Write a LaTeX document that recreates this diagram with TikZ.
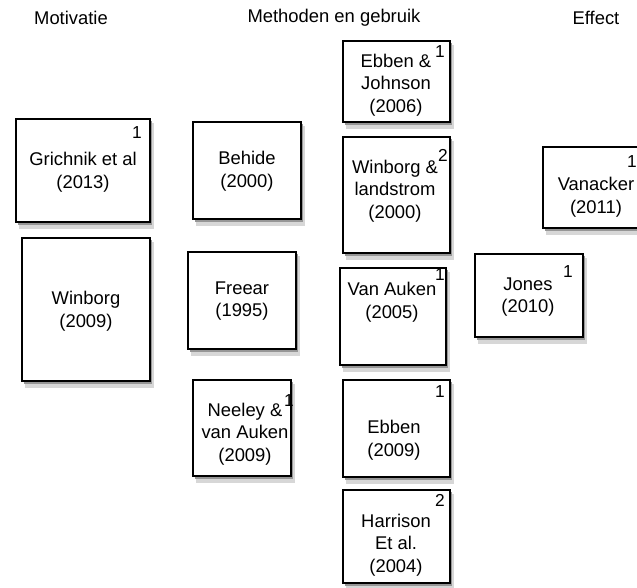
\documentclass[tikz,border=0pt]{standalone}
\usepackage{fontspec}
\setmainfont{Liberation Sans}
\definecolor{shadowlight}{RGB}{215,215,215}
\definecolor{shadowdark}{RGB}{150,150,150}

\tikzset{every picture/.style={line width=0.75pt}}
\tikzset{
  card/.style={draw=black, line width=1pt, fill=white},
  shadowfar/.style={fill=shadowlight},
  shadownear/.style={fill=shadowdark},
  cardtext/.style={align=center, inner sep=0pt, font=\fontsize{13.8}{17}\selectfont},
  cardnum/.style={inner sep=0pt, font=\fontsize{13}{14}\selectfont},
  header/.style={inner sep=0pt, font=\fontsize{13.8}{16}\selectfont}
}

\begin{document}
\begin{tikzpicture}[x=0.75pt,y=0.75pt,yscale=-1,xscale=1]
\useasboundingbox (0,0) rectangle (637,588);

% Text Node
\node[header] (motivatie) at (71,18) {Motivatie};
% Text Node
\node[header] (methoden) at (334,18) {Methoden en gebruik};
% Text Node
\node[header] (effect) at (596,18) {Effect};

%Shape: Rectangles with their shadows
\foreach \xa/\ya/\xb/\yb in {16/119/150/222, 22/238/150/381, 193/122/301/219,
    188/252/296/349, 193/380/291/476, 343/41/450/122, 343/137/450/253,
    340/268/446/365, 343/380/450/477, 343/490/450/583, 475/254/583/337,
    543/147/650/228}{
  \path[shadowfar] (\xa+3,\ya+4) rectangle (\xb+3.5,\yb+7);
  \path[shadownear] (\xa+1.5,\ya+2) rectangle (\xb+1.5,\yb+3.5);
  \draw[card] (\xa,\ya) rectangle (\xb,\yb);
}

% Text Node
\node[cardtext] (grichnik) at (83,172) {Grichnik et al\\(2013)};
\node[cardnum] (grichnik-n) at (137,133) {1};
% Text Node
\node[cardtext] (winborg) at (86,311) {Winborg\\(2009)};
% Text Node
\node[cardtext] (behide) at (247,171) {Behide\\(2000)};
% Text Node
\node[cardtext] (freear) at (242,301) {Freear\\(1995)};
% Text Node
\node[cardtext] (neeley) at (245,434) {Neeley \&\\van Auken\\(2009)};
\node[cardnum] (neeley-n) at (289,401) {1};
% Text Node
\node[cardtext] (ebbenjohnson) at (396,85) {Ebben \&\\Johnson\\(2006)};
\node[cardnum] (ebbenjohnson-n) at (440,52) {1};
% Text Node
\node[cardtext] (landstrom) at (395,191) {Winborg \&\\landstrom\\(2000)};
\node[cardnum] (landstrom-n) at (443,155) {2};
% Text Node
\node[cardtext] (vanauken) at (392,302) {Van Auken\\(2005)};
\node[cardnum] (vanauken-n) at (440,275) {1};
% Text Node
\node[cardtext] (ebben) at (394,440) {Ebben\\(2009)};
\node[cardnum] (ebben-n) at (440,392) {1};
% Text Node
\node[cardtext] (harrison) at (396,545) {Harrison\\Et al.\\(2004)};
\node[cardnum] (harrison-n) at (440,500) {2};
% Text Node
\node[cardtext] (jones) at (528,297) {Jones\\(2010)};
\node[cardnum] (jones-n) at (568,272) {1};
% Text Node
\node[cardtext] (vanacker) at (596,197) {Vanacker\\(2011)};
\node[cardnum] (vanacker-n) at (632,162) {1};

\end{tikzpicture}
\end{document}
